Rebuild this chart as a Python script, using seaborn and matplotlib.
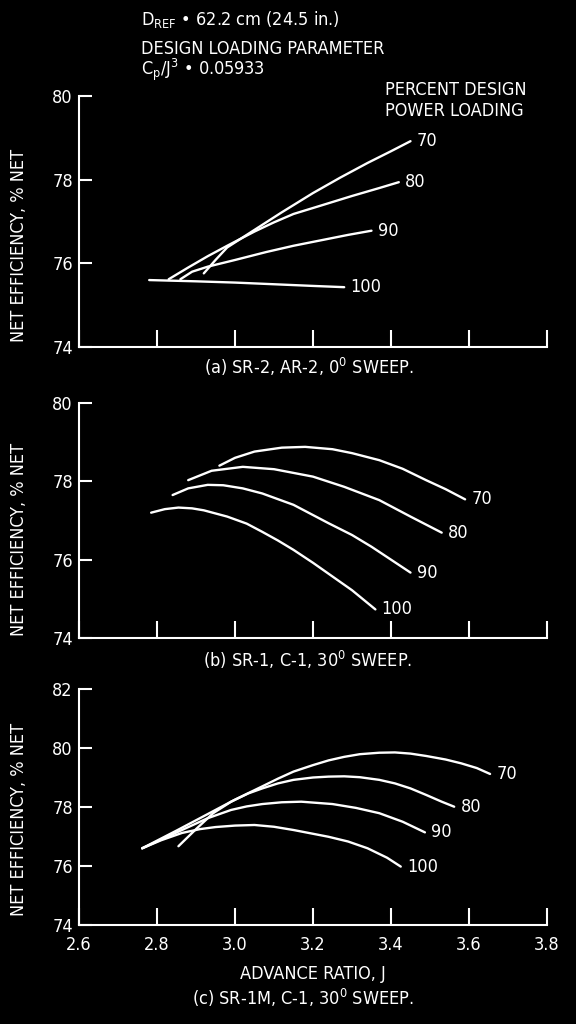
import matplotlib
matplotlib.use("Agg")
import matplotlib.pyplot as plt
import seaborn as sns
import pandas as pd

# ---------------- data ----------------
loadings = ["70", "80", "90", "100"]

# (a) SR-2, AR-2, 0 deg sweep
a70_x = [2.92, 2.95, 2.98, 3.05, 3.12, 3.20, 3.27, 3.34, 3.40, 3.45]
a70_y = [75.76, 76.08, 76.38, 76.80, 77.22, 77.68, 78.05, 78.40, 78.68, 78.92]
a80_x = [2.83, 2.88, 2.93, 2.98, 3.05, 3.10, 3.15, 3.22, 3.30, 3.37, 3.42]
a80_y = [75.62, 75.90, 76.17, 76.42, 76.76, 76.98, 77.18, 77.38, 77.61, 77.80, 77.94]
a90_x = [2.86, 2.89, 2.93, 3.00, 3.08, 3.15, 3.22, 3.29, 3.35]
a90_y = [75.62, 75.80, 75.92, 76.08, 76.27, 76.42, 76.55, 76.68, 76.78]
a100_x = [2.78, 2.90, 3.00, 3.10, 3.20, 3.28]
a100_y = [75.60, 75.57, 75.54, 75.50, 75.46, 75.43]

# (b) SR-1, C-1, 30 deg sweep
b70_x = [2.96, 3.00, 3.05, 3.12, 3.18, 3.25, 3.30, 3.37, 3.43, 3.49, 3.54, 3.59]
b70_y = [78.40, 78.60, 78.76, 78.86, 78.88, 78.82, 78.72, 78.54, 78.32, 78.03, 77.80, 77.54]
b80_x = [2.88, 2.94, 3.02, 3.10, 3.20, 3.28, 3.37, 3.45, 3.53]
b80_y = [78.03, 78.27, 78.37, 78.31, 78.12, 77.86, 77.52, 77.10, 76.69]
b90_x = [2.84, 2.88, 2.93, 2.97, 3.02, 3.07, 3.15, 3.24, 3.30, 3.35, 3.40, 3.45]
b90_y = [77.65, 77.82, 77.91, 77.90, 77.82, 77.69, 77.40, 76.93, 76.63, 76.33, 76.00, 75.67]
b100_x = [2.785, 2.82, 2.855, 2.89, 2.92, 2.98, 3.03, 3.07, 3.11, 3.15, 3.20, 3.25, 3.30, 3.36]
b100_y = [77.20, 77.29, 77.33, 77.31, 77.26, 77.10, 76.92, 76.71, 76.49, 76.25, 75.92, 75.57, 75.22, 74.73]

# (c) SR-1M, C-1, 30 deg sweep
c70_x = [2.762, 2.85, 2.93, 3.00, 3.07, 3.11, 3.15, 3.20, 3.24, 3.28, 3.32, 3.37,
         3.41, 3.45, 3.49, 3.54, 3.58, 3.62, 3.654]
c70_y = [76.60, 77.20, 77.76, 78.25, 78.70, 78.96, 79.20, 79.42, 79.58, 79.70, 79.79, 79.84,
         79.85, 79.81, 79.73, 79.61, 79.48, 79.32, 79.12]
c80_x = [2.855, 2.90, 2.944, 2.99, 3.034, 3.07, 3.11, 3.15, 3.20, 3.24, 3.28, 3.32,
         3.37, 3.41, 3.45, 3.49, 3.53, 3.562]
c80_y = [76.67, 77.25, 77.79, 78.18, 78.46, 78.63, 78.80, 78.92, 79.00, 79.03, 79.04, 79.01,
         78.92, 78.80, 78.63, 78.41, 78.18, 78.01]
c90_x = [2.762, 2.864, 2.93, 2.99, 3.03, 3.07, 3.12, 3.17, 3.25, 3.31, 3.37, 3.43, 3.487]
c90_y = [76.60, 77.22, 77.62, 77.90, 78.02, 78.10, 78.16, 78.18, 78.10, 77.97, 77.79, 77.50, 77.14]
c100_x = [2.762, 2.81, 2.864, 2.91, 2.95, 3.00, 3.05, 3.10, 3.15, 3.24, 3.29, 3.34, 3.39, 3.425]
c100_y = [76.60, 76.87, 77.12, 77.25, 77.32, 77.37, 77.39, 77.33, 77.22, 76.99, 76.83, 76.60, 76.28, 75.98]

x_ticks = [2.6, 2.8, 3.0, 3.2, 3.4, 3.6, 3.8]
x_ticklabels = ["2.6", "2.8", "3.0", "3.2", "3.4", "3.6", "3.8"]
yticks_ab = [74, 76, 78, 80]
yticks_c = [74, 76, 78, 80, 82]

captions = ["(a) SR-2, AR-2, 0$^{\\mathregular{0}}$ SWEEP.",
            "(b) SR-1, C-1, 30$^{\\mathregular{0}}$ SWEEP.",
            "(c) SR-1M, C-1, 30$^{\\mathregular{0}}$ SWEEP."]
ylabel = "NET EFFICIENCY, % NET"
xlabel = "ADVANCE RATIO, J"

# ---------------- style ----------------
sns.set_theme(style="ticks")
FONT = ["DejaVu Sans"]
plt.rcParams.update({
    "font.family": FONT,
    "font.stretch": "condensed",
    "mathtext.fontset": "custom",
    "mathtext.rm": "DejaVu Sans:stretch=condensed",
    "mathtext.it": "DejaVu Sans:stretch=condensed",
    "mathtext.bf": "DejaVu Sans:stretch=condensed",
    "figure.facecolor": "black",
    "axes.facecolor": "black",
    "savefig.facecolor": "black",
    "axes.edgecolor": "white",
    "axes.labelcolor": "white",
    "text.color": "white",
    "xtick.color": "white",
    "ytick.color": "white",
    "font.size": 13,
})
FS = 13

def frame(xs, ys):
    rows = []
    for lab, x, y in zip(loadings, xs, ys):
        for xi, yi in zip(x, y):
            rows.append({"J": xi, "eff": yi, "loading": lab})
    return pd.DataFrame(rows)

panels = [
    (frame([a70_x, a80_x, a90_x, a100_x], [a70_y, a80_y, a90_y, a100_y]), (74, 80), yticks_ab),
    (frame([b70_x, b80_x, b90_x, b100_x], [b70_y, b80_y, b90_y, b100_y]), (74, 80), yticks_ab),
    (frame([c70_x, c80_x, c90_x, c100_x], [c70_y, c80_y, c90_y, c100_y]), (74, 82), yticks_c),
]

W, H = 576, 1024
fig = plt.figure(figsize=(W / 100, H / 100), dpi=100)

# axes boxes in pixels: (left, top, right, bottom)
boxes = [(79, 96, 547, 347), (79, 403, 547, 638), (79, 689, 547, 925)]
ylabel_frac = [0.404, 0.421, 0.449]
caption_pos = [(309, 367), (308, 660), (303, 998)]

white = {k: "white" for k in loadings}

for i, ((df, ylim, yt), (l, t, r, b)) in enumerate(zip(panels, boxes)):
    ax = fig.add_axes([l / W, 1 - b / H, (r - l) / W, (b - t) / H])
    sns.lineplot(data=df, x="J", y="eff", hue="loading", palette=white,
                 estimator=None, legend=False, linewidth=1.7, ax=ax)
    ax.set_xlim(2.6, 3.8)
    ax.set_ylim(*ylim)
    ax.set_xticks(x_ticks)
    ax.set_yticks(yt)
    ax.set_yticklabels([str(v) for v in yt], fontsize=FS)
    if i == 2:
        ax.set_xticklabels(x_ticklabels, fontsize=FS)
        ax.set_xlabel(xlabel, fontsize=FS, labelpad=8)
    else:
        ax.set_xticklabels([])
        ax.set_xlabel("")
    ax.set_ylabel(ylabel, fontsize=FS)
    ax.yaxis.set_label_coords(-0.109, ylabel_frac[i])
    for s in ["top", "right"]:
        ax.spines[s].set_visible(False)
    for s in ["left", "bottom"]:
        ax.spines[s].set_linewidth(1.5)
        ax.spines[s].set_color("white")
    ax.tick_params(axis="y", direction="in", length=9, width=1.5, pad=4.5)
    ax.tick_params(axis="x", direction="in", length=12, width=1.5, pad=8)
    ax.grid(False)

    # curve labels at each curve's end
    for lab in loadings:
        sub = df[df["loading"] == lab]
        ax.annotate(lab, xy=(sub["J"].iloc[-1], sub["eff"].iloc[-1]),
                    xytext=(4.5, 0), textcoords="offset points",
                    ha="left", va="center", fontsize=FS, color="white")

    cx, cy = caption_pos[i]
    fig.text(cx / W, 1 - cy / H, captions[i], ha="center", va="center", fontsize=FS)

# header texts
fig.text(141 / W, 1 - 20 / H, "$\\mathregular{D_{REF}}$ • 62.2 cm (24.5 in.)",
         ha="left", va="center", fontsize=FS)
fig.text(141 / W, 1 - 49 / H, "DESIGN LOADING PARAMETER", ha="left", va="center", fontsize=FS)
fig.text(141 / W, 1 - 70 / H, "$\\mathregular{C_p/J^3}$ • 0.05933",
         ha="left", va="center", fontsize=FS)
fig.text(385 / W, 1 - 90 / H, "PERCENT DESIGN", ha="left", va="center", fontsize=FS)
fig.text(385 / W, 1 - 111 / H, "POWER LOADING", ha="left", va="center", fontsize=FS)

fig.savefig("out.png", dpi=100, facecolor="black")
